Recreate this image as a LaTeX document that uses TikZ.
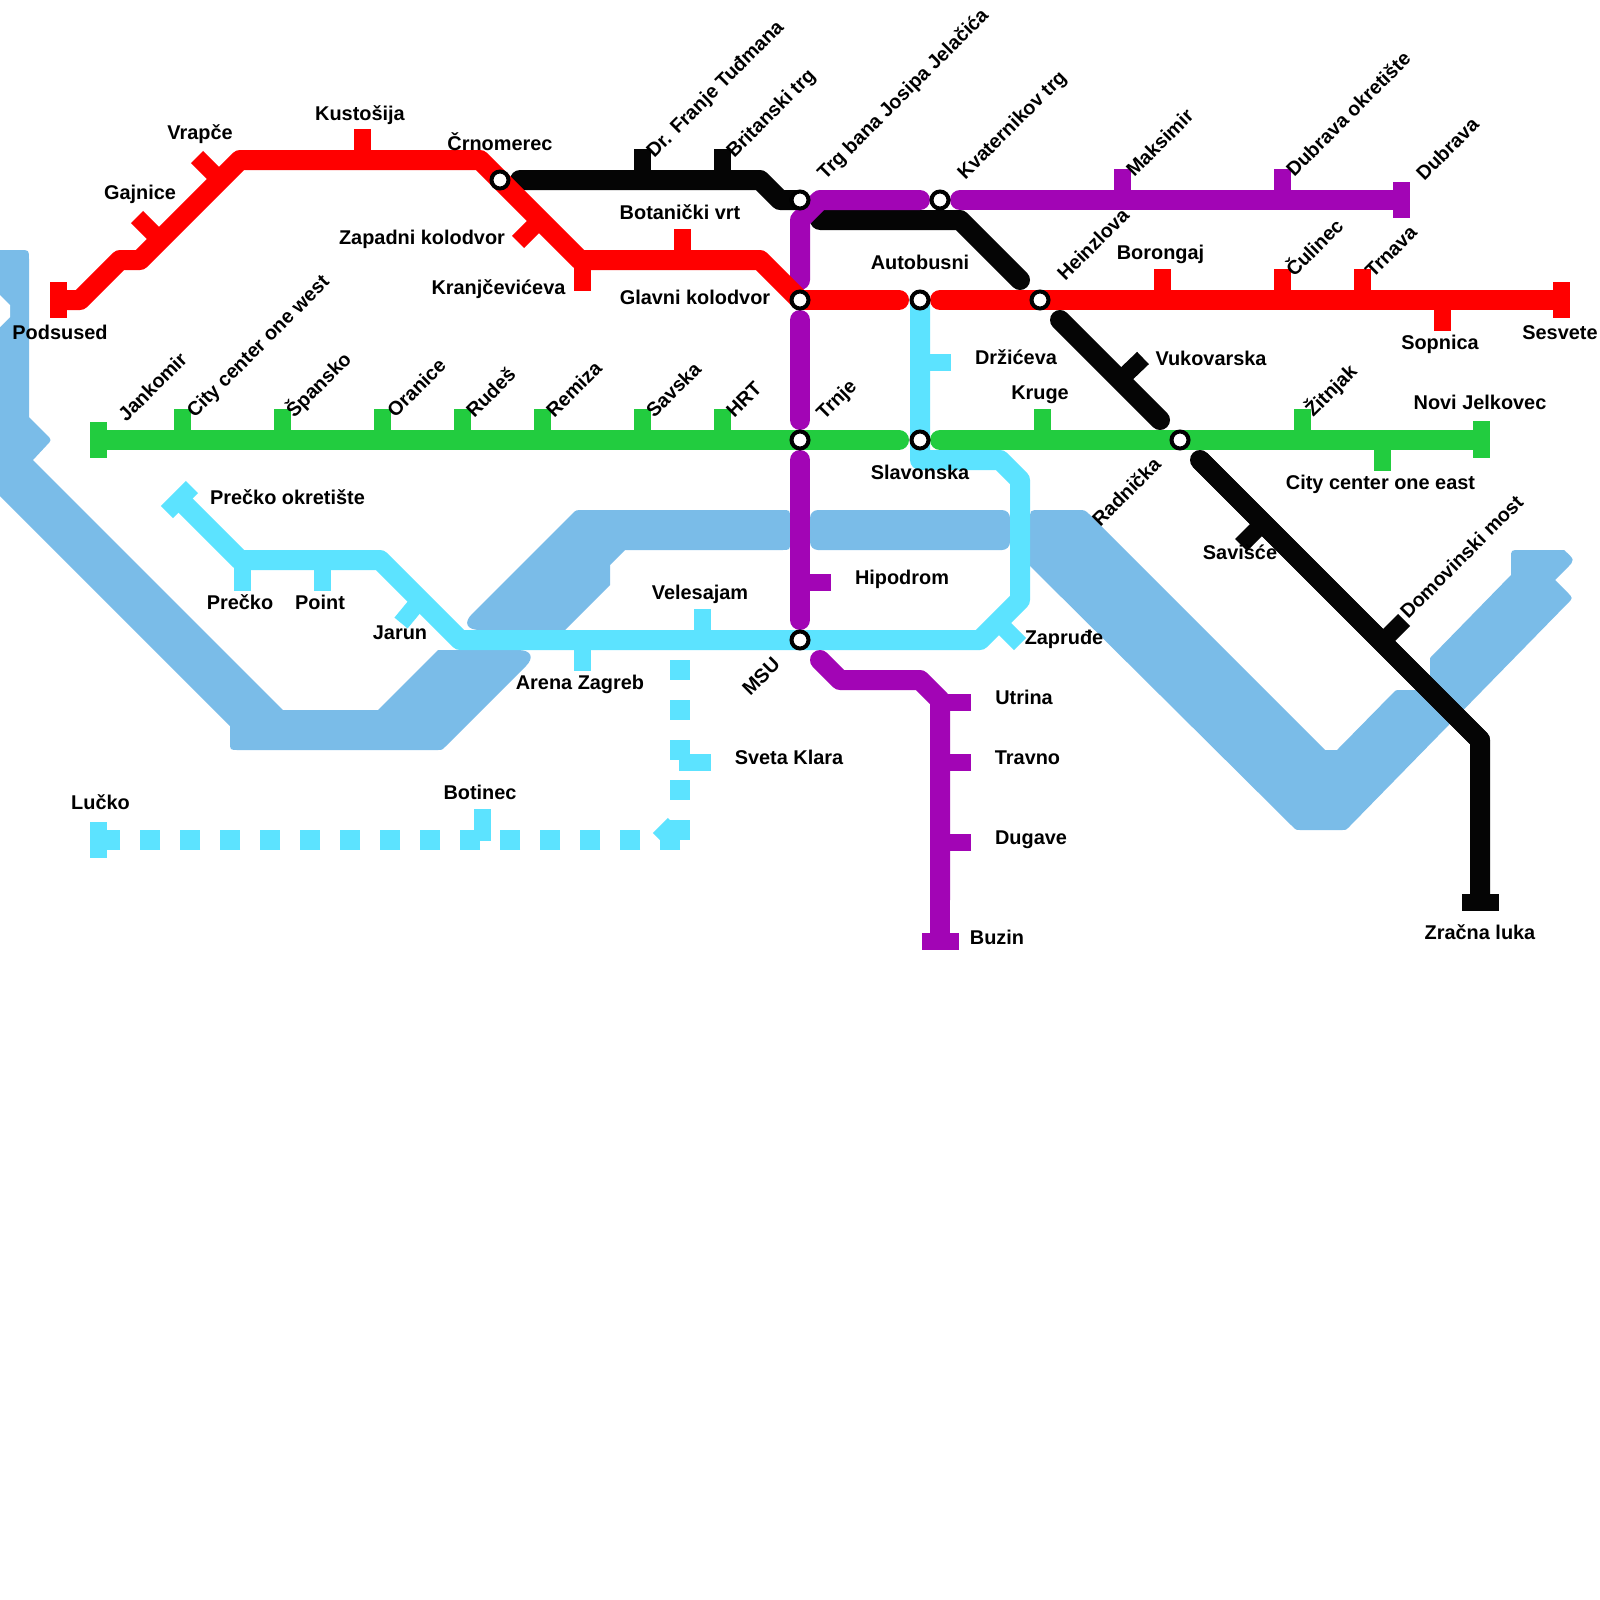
\documentclass[tikz,border=0pt]{standalone}
\usepackage{fontspec}
\setmainfont{Liberation Sans}
\definecolor{lred}{HTML}{FF0000}
\definecolor{lblack}{HTML}{050505}
\definecolor{lpurple}{HTML}{A205B5}
\definecolor{lgreen}{HTML}{22CC3F}
\definecolor{lcyan}{HTML}{5CE3FF}
\definecolor{lwater}{HTML}{7ABCE8}
\tikzset{
  metro/.style={line width=10pt,line join=round,line cap=butt},
  metroround/.style={metro,line cap=round},
  tick/.style={line width=8.5pt,line cap=butt},
  water/.style={fill=lwater,draw=none},
  hub/.style={circle,draw=black,fill=white,line width=2pt,minimum size=8.5pt,inner sep=0pt},
  hlbl/.style={font=\fontsize{9.95pt}{11pt}\selectfont\bfseries,inner sep=0pt,text=black,anchor=base},
  rlbl/.style={font=\fontsize{9.85pt}{11pt}\selectfont\bfseries,inner sep=0pt,text=black,anchor=base west,rotate=45},
}
% \stubline{name}{colour}{from}{to}
\newcommand{\stubline}[4]{\coordinate (#1a) at (#3);\coordinate (#1b) at (#4);\draw[tick,#2] (#1a) -- (#1b);}
\begin{document}
\begin{tikzpicture}[x=0.5pt,y=-0.5pt]
\useasboundingbox (0,0) rectangle (1600,1600);
\fill[white] (0,0) rectangle (1600,1600);
% ---------- water
\fill[water] (0,250) -- (20,250) .. controls (29,250) .. (29,259) -- (29,417) -- (46,434) .. controls (52,440) .. (46,446) -- (33,460) -- (283,710) -- (378,710) -- (438,650) -- (518,650) .. controls (532,650) and (534,658) .. (526,666) -- (446,746) .. controls (442,750) .. (438,750) -- (238,750) .. controls (230,750) .. (230,742) -- (230,726) -- (0,496) -- cycle;
\fill[white] (0,295) -- (10,305) -- (10,317) -- (0,327) -- cycle;
\fill[water] (583,510) -- (782,510) .. controls (790,510) .. (790,518) -- (790,542) .. controls (790,550) .. (782,550) -- (625,550) -- (610,565) -- (610,585) -- (565,630) -- (480,630) .. controls (467,630) and (463,623) .. (472,614) -- (572,514) .. controls (576,510) .. (583,510) -- cycle;
\fill[water,rounded corners=4pt] (810,510) rectangle (1010,550);
\fill[water] (1325,750) -- (1090,515) .. controls (1085,510) .. (1078,510) -- (1040,510) .. controls (1030,510) .. (1030,520) -- (1030,566) -- (1292,826) .. controls (1296,830) .. (1300,830) -- (1342,830) .. controls (1346,830) .. (1349,827) -- (1568,603) .. controls (1573,598) .. (1567,592) -- (1555,580) -- (1567,568) .. controls (1575,560) .. (1564,550) -- (1520,550) .. controls (1511,550) .. (1511,558) -- (1511,575) -- (1430,658) -- (1430,690) -- (1400,690) .. controls (1396,690) .. (1393,693) -- (1337,750) -- cycle;
% ---------- interchange hubs (positions)
\coordinate (cCrn) at (500,180);
\coordinate (cTrg) at (800,200);
\coordinate (cKva) at (940,200);
\coordinate (cGla) at (800,300);
\coordinate (cAut) at (920,300);
\coordinate (cHei) at (1040,300);
\coordinate (cTrn) at (800,440);
\coordinate (cSla) at (920,440);
\coordinate (cRad) at (1180,440);
\coordinate (cMsu) at (800,640);
% ---------- cyan line
\coordinate (y1) at (920,460); \coordinate (y2) at (1000,460); \coordinate (y3) at (1020,480);
\coordinate (y4) at (1020,600); \coordinate (y5) at (980,640); \coordinate (y6) at (460,640);
\coordinate (y7) at (380,560); \coordinate (y8) at (240,560); \coordinate (y9) at (180,500);
\draw[metro,lcyan] (cAut) -- (y1) -- (y2) -- (y3) -- (y4) -- (y5) -- (y6) -- (y7) -- (y8) -- (y9);
\stubline{sDrz}{lcyan}{920,362}{951,362}
\stubline{sZap}{lcyan}{998,622}{1020,644}
\stubline{sVel}{lcyan}{702,640}{702,609}
\stubline{sAre}{lcyan}{582,640}{582,671}
\stubline{sJar}{lcyan}{420,600}{401,623}
\stubline{sPre}{lcyan}{242,560}{242,591}
\stubline{sPoi}{lcyan}{322,560}{322,591}
\stubline{sOkr}{lcyan}{192,487}{167,512}
% dotted cyan
\coordinate (d1) at (680,660); \coordinate (d2) at (680,840); \coordinate (d3) at (100,840);
\coordinate (d4) at (675,825); \coordinate (d5) at (660,840);
\draw[line width=10pt,lcyan,dash pattern=on 10pt off 10pt] (d1) -- (d2);
\draw[line width=10pt,lcyan] (d4) -- (d5);
\draw[line width=10pt,lcyan,dash pattern=on 10pt off 10pt] (d2) -- (d3);
\stubline{sLuc}{lcyan}{98.5,822}{98.5,858}
\stubline{sBot}{lcyan}{482,841}{482,809}
\stubline{sSve}{lcyan}{679,762}{711,762}
% ---------- black line
\coordinate (k1) at (520,180); \coordinate (k2) at (760,180); \coordinate (k3) at (780,200);
\coordinate (k4) at (820,220); \coordinate (k5) at (960,220); \coordinate (k6) at (1020,280);
\coordinate (k7) at (1060,320); \coordinate (k8) at (1160,420);
\coordinate (k9) at (1200,460); \coordinate (k10) at (1480,740); \coordinate (k11) at (1480,900);
\draw[metroround,lblack] (k1) -- (k2) -- (k3) -- (cTrg);
\draw[metroround,lblack] (k4) -- (k5) -- (k6);
\draw[metroround,lblack] (k7) -- (k8);
\draw[metroround,lblack] (k9) -- (k10);
\draw[metro,lblack] (k9) -- (k10) -- (k11);
\stubline{sFra}{lblack}{642,180}{642,149}
\stubline{sBri}{lblack}{722,180}{722,149}
\stubline{sVuk}{lblack}{1120,380}{1143,358}
\stubline{sSav}{lblack}{1263,523}{1241,545}
\stubline{sDom}{lblack}{1382,642}{1404,620}
\stubline{sZra}{lblack}{1462,902}{1499,902}
% ---------- purple line
\coordinate (p1) at (800,280); \coordinate (p2) at (800,220); \coordinate (p3) at (820,200); \coordinate (p4) at (920,200);
\coordinate (p5) at (960,200); \coordinate (p6) at (1400,200); \coordinate (p6m) at (1380,200);
\coordinate (p7) at (800,320); \coordinate (p8) at (800,420);
\coordinate (p9) at (800,460); \coordinate (p10) at (800,620);
\coordinate (p11) at (820,660); \coordinate (p12) at (840,680); \coordinate (p13) at (920,680); \coordinate (p14) at (940,700); \coordinate (p14m) at (940,900); \coordinate (p15) at (940,940);
\draw[metroround,lpurple] (p1) -- (p2) -- (p3) -- (p4);
\draw[metroround,lpurple] (p5) -- (p6m);
\draw[metro,lpurple] (p6m) -- (p6);
\draw[metroround,lpurple] (p7) -- (p8);
\draw[metroround,lpurple] (p9) -- (p10);
\draw[metroround,lpurple] (p11) -- (p12) -- (p13) -- (p14) -- (p14m);
\draw[metro,lpurple] (p14m) -- (p15);
\stubline{sMak}{lpurple}{1122.5,200}{1122.5,169}
\stubline{sOkd}{lpurple}{1282.5,200}{1282.5,169}
\stubline{sDub}{lpurple}{1401.5,182}{1401.5,218}
\stubline{sHip}{lpurple}{800,582}{831,582}
\stubline{sUtr}{lpurple}{940,702}{971,702}
\stubline{sTra}{lpurple}{940,762}{971,762}
\stubline{sDug}{lpurple}{940,842}{971,842}
\stubline{sBuz}{lpurple}{922,941.5}{959,941.5}
% ---------- red line
\coordinate (r1) at (60,300); \coordinate (r2) at (80,300); \coordinate (r3) at (120,260); \coordinate (r4) at (140,260);
\coordinate (r5) at (240,160); \coordinate (r6) at (480,160); \coordinate (r7) at (580,260); \coordinate (r8) at (760,260);
\coordinate (r9) at (899,300); \coordinate (r10) at (940,300); \coordinate (r10m) at (1500,300); \coordinate (r11) at (1560,300);
\draw[metro,lred] (r1) -- (r2) -- (r3) -- (r4) -- (r5) -- (r6) -- (r7) -- (r8) -- (cGla);
\draw[metroround,lred] (cGla) -- (r9);
\draw[metroround,lred] (r10) -- (r10m);
\draw[metro,lred] (r10m) -- (r11);
\stubline{sPod}{lred}{58.5,282}{58.5,318}
\stubline{sGaj}{lred}{160,240}{137,217}
\stubline{sVra}{lred}{220,180}{197,157}
\stubline{sKus}{lred}{362,160}{362,129}
\stubline{sZak}{lred}{540,220}{518,242}
\stubline{sKra}{lred}{582,260}{582,291}
\stubline{sBot2}{lred}{682,260}{682,229}
\stubline{sBor}{lred}{1162.5,300}{1162.5,269}
\stubline{sCul}{lred}{1282.5,300}{1282.5,269}
\stubline{sTrn}{lred}{1362.5,300}{1362.5,269}
\stubline{sSop}{lred}{1442.5,300}{1442.5,331}
\stubline{sSes}{lred}{1561.5,282}{1561.5,318}
% ---------- green line
\coordinate (g1) at (100,440); \coordinate (g1m) at (200,440); \coordinate (g2) at (899,440); \coordinate (g3) at (940,440); \coordinate (g3m) at (1400,440); \coordinate (g4) at (1480,440);
\draw[metro,lgreen] (g1) -- (g1m);
\draw[metroround,lgreen] (g1m) -- (g2);
\draw[metroround,lgreen] (g3) -- (g3m);
\draw[metro,lgreen] (g3m) -- (g4);
\stubline{sJan}{lgreen}{98.5,422}{98.5,458}
\stubline{sCcw}{lgreen}{182.5,440}{182.5,409}
\stubline{sSpa}{lgreen}{282.5,440}{282.5,409}
\stubline{sOra}{lgreen}{382.5,440}{382.5,409}
\stubline{sRud}{lgreen}{462.5,440}{462.5,409}
\stubline{sRem}{lgreen}{542.5,440}{542.5,409}
\stubline{sSvk}{lgreen}{642.5,440}{642.5,409}
\stubline{sHrt}{lgreen}{722.5,440}{722.5,409}
\stubline{sKru}{lgreen}{1042.5,440}{1042.5,409}
\stubline{sZit}{lgreen}{1302.5,440}{1302.5,409}
\stubline{sCce}{lgreen}{1382.5,440}{1382.5,471}
\stubline{sNov}{lgreen}{1481,421}{1481,458}
% ---------- hubs
\node[hub] (hCrn) at (cCrn) {};
\node[hub] (hTrg) at (cTrg) {};
\node[hub] (hKva) at (cKva) {};
\node[hub] (hGla) at (cGla) {};
\node[hub] (hAut) at (cAut) {};
\node[hub] (hHei) at (cHei) {};
\node[hub] (hTrn) at (cTrn) {};
\node[hub] (hSla) at (cSla) {};
\node[hub] (hRad) at (cRad) {};
\node[hub] (hMsu) at (cMsu) {};
% ---------- horizontal labels
\node[hlbl] (tPod) at (60,339) {Podsused};
\node[hlbl] (tGaj) at (140,199) {Gajnice};
\node[hlbl] (tVra) at (200,140) {Vrapče};
\node[hlbl] (tKus) at (360,120) {Kustošija};
\node[hlbl] (tCrn) at (500,150) {Črnomerec};
\node[hlbl] (tZap) at (422,244) {Zapadni kolodvor};
\node[hlbl] (tKra) at (498.5,294) {Kranjčevićeva};
\node[hlbl] (tBot) at (680,219) {Botanički vrt};
\node[hlbl] (tGla) at (695,304) {Glavni kolodvor};
\node[hlbl] (tAut) at (920,269) {Autobusni};
\node[hlbl] (tSla) at (920,479) {Slavonska};
\node[hlbl] (tDrz) at (1016,364) {Držićeva};
\node[hlbl] (tKru) at (1040,399) {Kruge};
\node[hlbl] (tOkr) at (287.5,504) {Prečko okretište};
\node[hlbl] (tPre) at (240,609) {Prečko};
\node[hlbl] (tPoi) at (320,609) {Point};
\node[hlbl] (tJar) at (400,639) {Jarun};
\node[hlbl] (tAre) at (580,689) {Arena Zagreb};
\node[hlbl] (tVel) at (700,599) {Velesajam};
\node[hlbl] (tLuc) at (100.5,809) {Lučko};
\node[hlbl] (tBti) at (480,799) {Botinec};
\node[hlbl] (tSve) at (789,764) {Sveta Klara};
\node[hlbl] (tHip) at (902,584) {Hipodrom};
\node[hlbl] (tZpr) at (1064,644) {Zapruđe};
\node[hlbl] (tUtr) at (1024,704) {Utrina};
\node[hlbl] (tTra) at (1027.5,764) {Travno};
\node[hlbl] (tDug) at (1031,844) {Dugave};
\node[hlbl] (tBuz) at (997,944) {Buzin};
\node[hlbl] (tZra) at (1480,939) {Zračna luka};
\node[hlbl] (tCce) at (1380.5,489) {City center one east};
\node[hlbl] (tSav) at (1240,559) {Savišće};
\node[hlbl] (tNov) at (1480,409) {Novi Jelkovec};
\node[hlbl] (tVuk) at (1211,365) {Vukovarska};
\node[hlbl] (tBor) at (1160.5,259) {Borongaj};
\node[hlbl] (tSop) at (1440,349) {Sopnica};
\node[hlbl] (tSes) at (1560,339) {Sesvete};
% ---------- rotated labels
\node[rlbl] (tJan) at (126,423) {Jankomir};
\node[rlbl] (tCcw) at (194.5,419) {City center one west};
\node[rlbl] (tSpa) at (294,419) {Špansko};
\node[rlbl] (tOra) at (395,419) {Oranice};
\node[rlbl] (tRud) at (474,419) {Rudeš};
\node[rlbl] (tRem) at (554,419) {Remiza};
\node[rlbl] (tSvk) at (654,419) {Savska};
\node[rlbl] (tHrt) at (734,419) {HRT};
\node[rlbl] (tTrn) at (824,421) {Trnje};
\node[rlbl] (tFra) at (654,159) {Dr. Franje Tuđmana};
\node[rlbl] (tBri) at (734,159) {Britanski trg};
\node[rlbl] (tTrg) at (825,181) {Trg bana Josipa Jelačića};
\node[rlbl] (tKva) at (965,181) {Kvaternikov trg};
\node[rlbl] (tMak) at (1134,178) {Maksimir};
\node[rlbl] (tOkd) at (1294,178) {Dubrava okretište};
\node[rlbl] (tDub) at (1424,182) {Dubrava};
\node[rlbl] (tHei) at (1065,282) {Heinzlova};
\node[rlbl] (tCul) at (1294,278) {Čulinec};
\node[rlbl] (tTrv) at (1373,279) {Trnava};
\node[rlbl] (tZit) at (1313,418) {Žitnjak};
\node[rlbl] (tRad) at (1100,528) {Radnička};
\node[rlbl] (tDom) at (1408,620) {Domovinski most};
\node[rlbl] (tMsu) at (750,697) {MSU};
\end{tikzpicture}
\end{document}
